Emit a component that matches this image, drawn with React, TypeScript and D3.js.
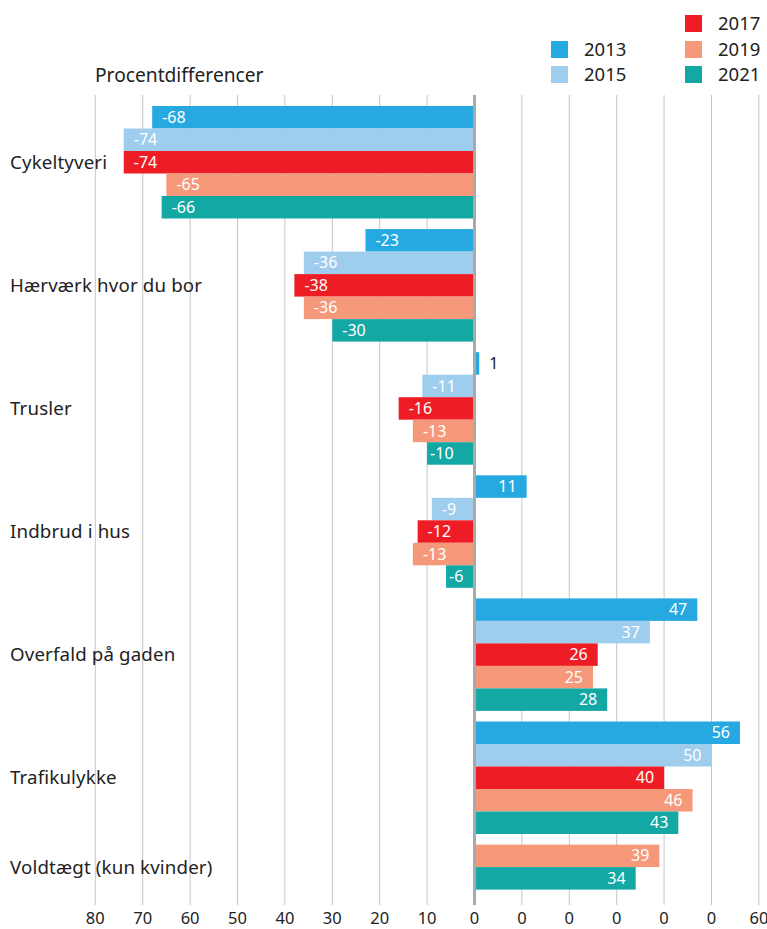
import React from "react";
import * as d3 from "d3";

const categories = [
  "Cykeltyveri",
  "Hærværk hvor du bor",
  "Trusler",
  "Indbrud i hus",
  "Overfald på gaden",
  "Trafikulykke",
  "Voldtægt (kun kvinder)",
];
const years = ["2013", "2015", "2017", "2019", "2021"];
const v2013: (number | null)[] = [-68, -23, 1, 11, 47, 56, null];
const v2015: (number | null)[] = [-74, -36, -11, -9, 37, 50, null];
const v2017: (number | null)[] = [-74, -38, -16, -12, 26, 40, null];
const v2019: (number | null)[] = [-65, -36, -13, -13, 25, 46, 39];
const v2021: (number | null)[] = [-66, -30, -10, -6, 28, 43, 34];
const seriesValues = [v2013, v2015, v2017, v2019, v2021];
const colors = ["#25a9e0", "#9ecdee", "#ee1d25", "#f5997a", "#14a8a5"];
const tickValues = [-80, -70, -60, -50, -40, -30, -20, -10, 0, 10, 20, 30, 40, 50, 60];
const tickLabels = ["80", "70", "60", "50", "40", "30", "20", "10", "0", "0", "0", "0", "0", "0", "60"];
const axisTitle = "Procentdifferencer";

const W = 767;
const H = 929;
const FONT = "'Noto Sans', sans-serif";

export default function App() {
  const x = d3.scaleLinear().domain([-80, 60]).range([95.3, 758.9]);
  const groupStep = 123.1;
  const bandH = 112.5;
  const y = d3
    .scaleBand<string>()
    .domain(categories)
    .range([106, 106 + 6 * groupStep + bandH])
    .paddingInner((groupStep - bandH) / groupStep)
    .paddingOuter(0);
  const barH = y.bandwidth() / years.length;

  const gridTop = 95;
  const gridBottom = 905;

  const textW = (s: string) => s.length * 9.2;

  const bars: React.ReactNode[] = [];
  const labels: React.ReactNode[] = [];
  const catLabels: React.ReactNode[] = [];

  categories.forEach((cat, ci) => {
    const present = years
      .map((yr, si) => ({ yr, si, v: seriesValues[si][ci] }))
      .filter((d) => d.v !== null) as { yr: string; si: number; v: number }[];
    const inner = d3
      .scaleBand<string>()
      .domain(present.map((d) => d.yr))
      .range([0, present.length * barH]);
    const top = y(cat)!;
    catLabels.push(
      <text
        key={"c" + ci}
        x={10}
        y={top + (present.length * barH) / 2}
        dy="0.35em"
        fontSize={18.7}
        letterSpacing={0.15}
        fill="#222"
        fontFamily={FONT}
      >
        {cat}
      </text>
    );
    present.forEach((d) => {
      const y0 = top + inner(d.yr)!;
      const x0 = Math.min(x(0), x(d.v));
      const x1 = Math.max(x(0), x(d.v));
      const w = x1 - x0;
      bars.push(
        <rect key={`b${ci}-${d.si}`} x={x0} y={y0} width={w} height={inner.bandwidth()} fill={colors[d.si]} />
      );
      const label = String(d.v);
      const tw = textW(label);
      const cy = y0 + inner.bandwidth() / 2;
      let lx: number;
      let anchor: "start" | "end";
      let fill = "#fff";
      if (w < tw + 6) {
        lx = x1 + 10;
        anchor = "start";
        fill = "#222";
      } else {
        const pad = w > tw + 20 ? 10 : 3;
        if (d.v < 0) {
          lx = x0 + pad;
          anchor = "start";
        } else {
          lx = x1 - pad;
          anchor = "end";
        }
      }
      labels.push(
        <text
          key={`l${ci}-${d.si}`}
          x={lx}
          y={cy}
          dy="0.35em"
          textAnchor={anchor}
          fontSize={16}
          fill={fill}
          fontFamily={FONT}
        >
          {label}
        </text>
      );
    });
  });

  const legendLeft = [
    { i: 0, x: 551, y: 41 },
    { i: 1, x: 551, y: 66 },
    { i: 2, x: 685, y: 15 },
    { i: 3, x: 685, y: 41 },
    { i: 4, x: 685, y: 66 },
  ];

  return (
    <svg
      width={W}
      height={H}
      style={{ position: "absolute", left: 0, top: 0, background: "#fff" }}
      fontFamily={FONT}
    >
      {tickValues.map((t, i) =>
        t === 0 ? null : (
          <line key={"g" + i} x1={x(t)} x2={x(t)} y1={gridTop} y2={gridBottom} stroke="#c6c6c6" strokeWidth={1} />
        )
      )}
      {bars}
      <line x1={x(0)} x2={x(0)} y1={gridTop} y2={gridBottom} stroke="#a9a9a9" strokeWidth={3} />
      {labels}
      {catLabels}
      {tickValues.map((t, i) => (
        <text key={"t" + i} x={x(t)} y={918} dy="0.35em" textAnchor="middle" fontSize={16.5} fill="#222">
          {tickLabels[i]}
        </text>
      ))}
      <text x={95} y={82} fontSize={19.2} fill="#222">
        {axisTitle}
      </text>
      {legendLeft.map((l) => (
        <g key={"lg" + l.i}>
          <rect x={l.x} y={l.y} width={17} height={17} fill={colors[l.i]} />
          <text x={l.x + 33} y={l.y + 8.5} dy="0.35em" fontSize={18.5} fill="#222">
            {years[l.i]}
          </text>
        </g>
      ))}
    </svg>
  );
}
